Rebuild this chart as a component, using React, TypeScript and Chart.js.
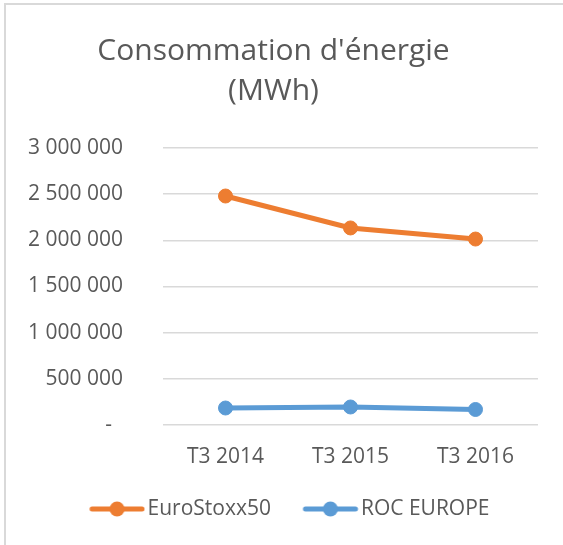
import React, { useEffect, useRef } from "react";
import { Chart, registerables } from "chart.js";

Chart.register(...registerables);

const categories = ["T3 2014", "T3 2015", "T3 2016"];
const seriesNames = ["EuroStoxx50", "ROC EUROPE"];
const euroStoxx50 = [2480000, 2134000, 2014000];
const rocEurope = [184000, 195000, 168000];
const yMin = 0;
const yMax = 3000000;
const yStep = 500000;
const titleLines = ["Consommation d'énergie", "(MWh)"];

const ORANGE = "#ED7D31";
const BLUE = "#5B9BD5";
const TEXT = "#595959";
const GRID = "#D9D9D9";
const FONT = "'Open Sans', 'Noto Sans', sans-serif";

function formatTick(v: number): string {
  if (v === 0) return "-  ";
  return String(v).replace(/\B(?=(\d{3})+(?!\d))/g, " ");
}

function legendMarker(color: string): HTMLCanvasElement {
  const c = document.createElement("canvas");
  c.width = 96;
  c.height = 18;
  const ctx = c.getContext("2d")!;
  const cx = 48 + 19.75;
  ctx.strokeStyle = color;
  ctx.lineWidth = 5;
  ctx.lineCap = "round";
  ctx.beginPath();
  ctx.moveTo(cx - 25, 9);
  ctx.lineTo(cx + 25, 9);
  ctx.stroke();
  ctx.fillStyle = color;
  ctx.beginPath();
  ctx.arc(cx, 9, 7.5, 0, Math.PI * 2);
  ctx.fill();
  return c;
}

export default function App() {
  const ref = useRef<HTMLCanvasElement | null>(null);

  useEffect(() => {
    if (!ref.current) return;
    const colors = [ORANGE, BLUE];
    const markers = colors.map(legendMarker);
    const chart = new Chart(ref.current, {
      type: "line",
      data: {
        labels: categories,
        datasets: [
          {
            label: seriesNames[0],
            data: euroStoxx50,
            borderColor: ORANGE,
            backgroundColor: ORANGE,
            borderWidth: 5,
            pointRadius: 7,
            pointHoverRadius: 7,
            pointBorderWidth: 1,
            pointBackgroundColor: ORANGE,
            pointBorderColor: ORANGE,
            tension: 0,
          },
          {
            label: seriesNames[1],
            data: rocEurope,
            borderColor: BLUE,
            backgroundColor: BLUE,
            borderWidth: 5,
            pointRadius: 7,
            pointHoverRadius: 7,
            pointBorderWidth: 1,
            pointBackgroundColor: BLUE,
            pointBorderColor: BLUE,
            tension: 0,
          },
        ],
      },
      options: {
        animation: false,
        responsive: false,
        maintainAspectRatio: false,
        layout: { padding: { left: 9, right: 25, top: 0, bottom: 15.5 } },
        plugins: {
          tooltip: { enabled: false },
          title: {
            display: true,
            text: titleLines,
            color: TEXT,
            font: { family: FONT, size: 30, weight: "normal", lineHeight: 40 / 30 },
            padding: { top: 31, bottom: 37 },
          },
          legend: {
            display: true,
            position: "bottom",
            labels: {
              usePointStyle: true,
              pointStyleWidth: 79.5,
              padding: 0,
              color: TEXT,
              font: { family: FONT, size: 21 },
              generateLabels: (ch: any) => {
                const items = (Chart.defaults as any).plugins.legend.labels.generateLabels(ch);
                items.forEach((it: any, i: number) => {
                  it.pointStyle = markers[i];
                });
                return items;
              },
            },
          },
        },
        scales: {
          x: {
            offset: true,
            grid: { display: false, drawTicks: false, offset: true },
            border: { display: false },
            ticks: {
              color: TEXT,
              font: { family: FONT, size: 21 },
              padding: 19,
              maxRotation: 0,
            },
            afterFit: (scale: any) => {
              scale.height = 73.5;
            },
          },
          y: {
            min: yMin,
            max: yMax,
            grid: { color: GRID, lineWidth: 1.5, drawTicks: false },
            border: { display: false },
            ticks: {
              stepSize: yStep,
              color: TEXT,
              font: { family: FONT, size: 21 },
              padding: 40,
              callback: (v: any) => formatTick(Number(v)),
            },
            afterFit: (scale: any) => {
              scale.width = 154;
            },
          },
        },
      },
    });
    return () => chart.destroy();
  }, []);

  return (
    <div
      style={{
        position: "fixed",
        left: 0,
        top: 0,
        width: 563,
        height: 545,
        background: "#ffffff",
        overflow: "hidden",
      }}
    >
      <div
        style={{
          position: "absolute",
          left: 4,
          top: 3,
          width: 620,
          height: 620,
          border: "2px solid #D9D9D9",
        }}
      />
      <canvas
        ref={ref}
        width={563}
        height={545}
        style={{ position: "absolute", left: 0, top: 0, display: "block" }}
      />
    </div>
  );
}
